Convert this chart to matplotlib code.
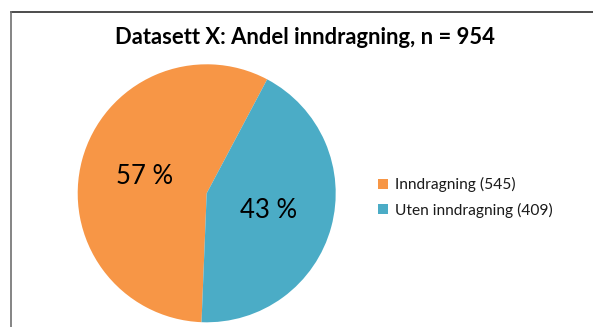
import matplotlib
matplotlib.use("Agg")
import matplotlib.pyplot as plt
from matplotlib.patches import Patch
from matplotlib.lines import Line2D

# Data
categories = ["Inndragning", "Uten inndragning"]
counts = [545, 409]
colors = ["#F79646", "#4BACC6"]
title = "Datasett X: Andel inndragning, n = 954"

plt.rcParams["font.family"] = ["Lato", "DejaVu Sans"]

W, H = 593, 327
fig = plt.figure(figsize=(W / 100, H / 100), dpi=100)

# Pie axes placed in pixel terms
cx, cy, r = 206.7, 193.3, 129.0
ax = fig.add_axes([(cx - r) / W, 1 - (cy + r) / H, 2 * r / W, 2 * r / H])
wedges, texts, autotexts = ax.pie(
    counts,
    colors=colors,
    startangle=-92.3,
    counterclock=False,
    autopct="%.0f %%",
    pctdistance=0.5,
    textprops={"fontsize": 18.5, "color": "black"},
    wedgeprops={"linewidth": 0},
)
ax.set_xlim(-1, 1)
ax.set_ylim(-1, 1)
ax.set_aspect("equal")
ax.axis("off")

# Title
fig.text(304.5 / W, 1 - 37 / H, title, ha="center", va="center",
         fontsize=15.8, fontweight="bold", color="black")

# Legend
handles = [Patch(facecolor=c, edgecolor="none") for c in colors]
labels = [f"{name} ({n})" for name, n in zip(categories, counts)]
fig.legend(handles, labels, loc="center left",
           bbox_to_anchor=(372 / W, 1 - 197.5 / H), frameon=False,
           fontsize=11.2, handlelength=0.6, handleheight=0.6,
           handletextpad=0.45, labelspacing=0.65, borderaxespad=0,
           labelcolor="#1a1a1a")

# Chart-area border (top and left edges)
fig.add_artist(Line2D([10.5 / W, 1.0], [1 - 11.5 / H, 1 - 11.5 / H],
                      transform=fig.transFigure, color="#2e2e2e", linewidth=1.2))
fig.add_artist(Line2D([10.5 / W, 10.5 / W], [0, 1 - 11.5 / H],
                      transform=fig.transFigure, color="#707070", linewidth=1.2))

fig.savefig("out.png", dpi=100, facecolor="white")
